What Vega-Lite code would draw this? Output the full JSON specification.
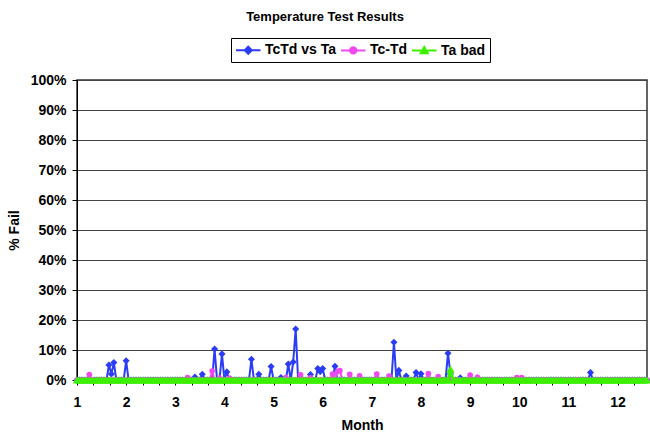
{
"$schema":"https://vega.github.io/schema/vega-lite/v6.json",
"width":570,"height":300,
"autosize":"none",
"padding":{"left":77,"top":80,"right":3,"bottom":54},
"background":"white",
"config":{"font":"Liberation Sans","view":{"stroke":"#333333","strokeWidth":1.5}},
"title":{"text":"Temperature Test Results","fontSize":13,"fontWeight":"bold","color":"black","anchor":"middle","dx":-37,"offset":4,"baseline":"alphabetic"},
"data":{"values":[
{"month":1,"tctd":0,"tc_td":0,"ta_bad":0},
{"month":1.05,"tctd":0,"tc_td":0,"ta_bad":0},
{"month":1.1,"tctd":0,"tc_td":0,"ta_bad":0},
{"month":1.15,"tctd":0,"tc_td":0,"ta_bad":0},
{"month":1.2,"tctd":0,"tc_td":0,"ta_bad":0},
{"month":1.25,"tctd":0,"tc_td":1.8,"ta_bad":0},
{"month":1.3,"tctd":0,"tc_td":0,"ta_bad":0},
{"month":1.35,"tctd":0,"tc_td":0,"ta_bad":0},
{"month":1.4,"tctd":0,"tc_td":0,"ta_bad":0},
{"month":1.45,"tctd":0,"tc_td":0,"ta_bad":0},
{"month":1.5,"tctd":0,"tc_td":0,"ta_bad":0},
{"month":1.55,"tctd":0,"tc_td":0,"ta_bad":0},
{"month":1.6,"tctd":0,"tc_td":0,"ta_bad":0},
{"month":1.65,"tctd":5.0,"tc_td":0,"ta_bad":0},
{"month":1.7,"tctd":2.0,"tc_td":0,"ta_bad":0},
{"month":1.75,"tctd":5.8,"tc_td":0,"ta_bad":0},
{"month":1.8,"tctd":0,"tc_td":0,"ta_bad":0},
{"month":1.85,"tctd":0,"tc_td":0,"ta_bad":0},
{"month":1.9,"tctd":0,"tc_td":0,"ta_bad":0},
{"month":1.95,"tctd":0,"tc_td":0,"ta_bad":0},
{"month":2,"tctd":6.4,"tc_td":0,"ta_bad":0},
{"month":2.05,"tctd":0,"tc_td":0,"ta_bad":0},
{"month":2.1,"tctd":0,"tc_td":0,"ta_bad":0},
{"month":2.15,"tctd":0,"tc_td":0,"ta_bad":0},
{"month":2.2,"tctd":0,"tc_td":0,"ta_bad":0},
{"month":2.25,"tctd":0,"tc_td":0,"ta_bad":0},
{"month":2.3,"tctd":0,"tc_td":0,"ta_bad":0},
{"month":2.35,"tctd":0,"tc_td":0,"ta_bad":0},
{"month":2.4,"tctd":0,"tc_td":0,"ta_bad":0},
{"month":2.45,"tctd":0,"tc_td":0,"ta_bad":0},
{"month":2.5,"tctd":0,"tc_td":0,"ta_bad":0},
{"month":2.55,"tctd":0,"tc_td":0,"ta_bad":0},
{"month":2.6,"tctd":0,"tc_td":0,"ta_bad":0},
{"month":2.65,"tctd":0,"tc_td":0,"ta_bad":0},
{"month":2.7,"tctd":0,"tc_td":0,"ta_bad":0},
{"month":2.75,"tctd":0,"tc_td":0,"ta_bad":0},
{"month":2.8,"tctd":0,"tc_td":0,"ta_bad":0},
{"month":2.85,"tctd":0,"tc_td":0,"ta_bad":0},
{"month":2.9,"tctd":0,"tc_td":0,"ta_bad":0},
{"month":2.95,"tctd":0,"tc_td":0,"ta_bad":0},
{"month":3,"tctd":0,"tc_td":0,"ta_bad":0},
{"month":3.05,"tctd":0,"tc_td":0,"ta_bad":0},
{"month":3.1,"tctd":0,"tc_td":0,"ta_bad":0},
{"month":3.15,"tctd":0,"tc_td":0,"ta_bad":0},
{"month":3.2,"tctd":0,"tc_td":0,"ta_bad":0},
{"month":3.25,"tctd":0,"tc_td":0.8,"ta_bad":0},
{"month":3.3,"tctd":0,"tc_td":0,"ta_bad":0},
{"month":3.35,"tctd":0,"tc_td":0,"ta_bad":0},
{"month":3.4,"tctd":1.0,"tc_td":0,"ta_bad":0},
{"month":3.45,"tctd":0,"tc_td":0,"ta_bad":0},
{"month":3.5,"tctd":0,"tc_td":0,"ta_bad":0},
{"month":3.55,"tctd":1.9,"tc_td":0,"ta_bad":0},
{"month":3.6,"tctd":0,"tc_td":0,"ta_bad":0},
{"month":3.65,"tctd":0,"tc_td":0,"ta_bad":0},
{"month":3.7,"tctd":0,"tc_td":0,"ta_bad":0},
{"month":3.75,"tctd":0,"tc_td":3.0,"ta_bad":0},
{"month":3.8,"tctd":10.3,"tc_td":0,"ta_bad":0},
{"month":3.85,"tctd":0,"tc_td":0,"ta_bad":0},
{"month":3.9,"tctd":0,"tc_td":0.6,"ta_bad":0},
{"month":3.95,"tctd":8.7,"tc_td":0,"ta_bad":0},
{"month":4,"tctd":0,"tc_td":0,"ta_bad":0},
{"month":4.05,"tctd":2.7,"tc_td":0,"ta_bad":0},
{"month":4.1,"tctd":0,"tc_td":0.6,"ta_bad":0},
{"month":4.15,"tctd":0,"tc_td":0,"ta_bad":0},
{"month":4.2,"tctd":0,"tc_td":0,"ta_bad":0},
{"month":4.25,"tctd":0,"tc_td":0,"ta_bad":0},
{"month":4.3,"tctd":0,"tc_td":0,"ta_bad":0},
{"month":4.35,"tctd":0,"tc_td":0,"ta_bad":0},
{"month":4.4,"tctd":0,"tc_td":0,"ta_bad":0},
{"month":4.45,"tctd":0,"tc_td":0,"ta_bad":0},
{"month":4.5,"tctd":0,"tc_td":0,"ta_bad":0},
{"month":4.55,"tctd":6.9,"tc_td":0,"ta_bad":0},
{"month":4.6,"tctd":0,"tc_td":0,"ta_bad":0},
{"month":4.65,"tctd":0,"tc_td":0,"ta_bad":0},
{"month":4.7,"tctd":1.9,"tc_td":0,"ta_bad":0},
{"month":4.75,"tctd":0,"tc_td":0,"ta_bad":0},
{"month":4.8,"tctd":0,"tc_td":0,"ta_bad":0},
{"month":4.85,"tctd":0,"tc_td":0,"ta_bad":0},
{"month":4.9,"tctd":0,"tc_td":0,"ta_bad":0},
{"month":4.95,"tctd":4.5,"tc_td":0,"ta_bad":0},
{"month":5,"tctd":0,"tc_td":0,"ta_bad":0},
{"month":5.05,"tctd":0,"tc_td":0,"ta_bad":0},
{"month":5.1,"tctd":0,"tc_td":0,"ta_bad":0},
{"month":5.15,"tctd":0.8,"tc_td":0,"ta_bad":0},
{"month":5.2,"tctd":0,"tc_td":0,"ta_bad":0},
{"month":5.25,"tctd":0,"tc_td":0.8,"ta_bad":0},
{"month":5.3,"tctd":5.3,"tc_td":0,"ta_bad":0},
{"month":5.35,"tctd":0,"tc_td":0,"ta_bad":0},
{"month":5.4,"tctd":6.0,"tc_td":0,"ta_bad":0},
{"month":5.45,"tctd":17.0,"tc_td":0,"ta_bad":0},
{"month":5.5,"tctd":0,"tc_td":0,"ta_bad":0},
{"month":5.55,"tctd":0,"tc_td":1.7,"ta_bad":0},
{"month":5.6,"tctd":0,"tc_td":0,"ta_bad":0},
{"month":5.65,"tctd":0,"tc_td":0,"ta_bad":0},
{"month":5.7,"tctd":0,"tc_td":0,"ta_bad":0},
{"month":5.75,"tctd":1.8,"tc_td":0.7,"ta_bad":0},
{"month":5.8,"tctd":0,"tc_td":0,"ta_bad":0},
{"month":5.85,"tctd":0,"tc_td":0,"ta_bad":0},
{"month":5.9,"tctd":3.8,"tc_td":0,"ta_bad":0},
{"month":5.95,"tctd":2.8,"tc_td":0,"ta_bad":0},
{"month":6,"tctd":3.8,"tc_td":0,"ta_bad":0},
{"month":6.05,"tctd":0,"tc_td":0,"ta_bad":0},
{"month":6.1,"tctd":0,"tc_td":0,"ta_bad":0},
{"month":6.15,"tctd":0,"tc_td":0,"ta_bad":0},
{"month":6.2,"tctd":0,"tc_td":2.0,"ta_bad":0},
{"month":6.25,"tctd":4.6,"tc_td":0,"ta_bad":0},
{"month":6.3,"tctd":0,"tc_td":2.8,"ta_bad":0},
{"month":6.35,"tctd":0,"tc_td":3.1,"ta_bad":0},
{"month":6.4,"tctd":0,"tc_td":0,"ta_bad":0},
{"month":6.45,"tctd":0,"tc_td":0,"ta_bad":0},
{"month":6.5,"tctd":0,"tc_td":0,"ta_bad":0},
{"month":6.55,"tctd":0,"tc_td":1.9,"ta_bad":0},
{"month":6.6,"tctd":0,"tc_td":0,"ta_bad":0},
{"month":6.65,"tctd":0,"tc_td":0,"ta_bad":0},
{"month":6.7,"tctd":0,"tc_td":0,"ta_bad":0},
{"month":6.75,"tctd":0,"tc_td":1.4,"ta_bad":0},
{"month":6.8,"tctd":0,"tc_td":0,"ta_bad":0},
{"month":6.85,"tctd":0,"tc_td":0,"ta_bad":0},
{"month":6.9,"tctd":0,"tc_td":0,"ta_bad":0},
{"month":6.95,"tctd":0,"tc_td":0,"ta_bad":0},
{"month":7,"tctd":0,"tc_td":0,"ta_bad":0},
{"month":7.05,"tctd":0,"tc_td":0,"ta_bad":0},
{"month":7.1,"tctd":0,"tc_td":2.0,"ta_bad":0},
{"month":7.15,"tctd":0,"tc_td":0,"ta_bad":0},
{"month":7.2,"tctd":0,"tc_td":0,"ta_bad":0},
{"month":7.25,"tctd":0,"tc_td":0,"ta_bad":0},
{"month":7.3,"tctd":0,"tc_td":0,"ta_bad":0},
{"month":7.35,"tctd":0,"tc_td":1.3,"ta_bad":0},
{"month":7.4,"tctd":0,"tc_td":0,"ta_bad":0},
{"month":7.45,"tctd":12.6,"tc_td":0,"ta_bad":0},
{"month":7.5,"tctd":0,"tc_td":0,"ta_bad":0},
{"month":7.55,"tctd":3.2,"tc_td":0,"ta_bad":0},
{"month":7.6,"tctd":0,"tc_td":0,"ta_bad":0},
{"month":7.65,"tctd":0,"tc_td":0,"ta_bad":0},
{"month":7.7,"tctd":1.3,"tc_td":0,"ta_bad":0},
{"month":7.75,"tctd":0,"tc_td":0,"ta_bad":0},
{"month":7.8,"tctd":0,"tc_td":0,"ta_bad":0},
{"month":7.85,"tctd":0,"tc_td":0,"ta_bad":0},
{"month":7.9,"tctd":2.5,"tc_td":0,"ta_bad":0},
{"month":7.95,"tctd":0,"tc_td":0,"ta_bad":0},
{"month":8,"tctd":2.1,"tc_td":0,"ta_bad":0},
{"month":8.05,"tctd":0,"tc_td":0,"ta_bad":0},
{"month":8.1,"tctd":0,"tc_td":0,"ta_bad":0},
{"month":8.15,"tctd":0,"tc_td":2.1,"ta_bad":0},
{"month":8.2,"tctd":0,"tc_td":0,"ta_bad":0},
{"month":8.25,"tctd":0,"tc_td":0,"ta_bad":0},
{"month":8.3,"tctd":0,"tc_td":0,"ta_bad":0},
{"month":8.35,"tctd":0,"tc_td":1.1,"ta_bad":0},
{"month":8.4,"tctd":0,"tc_td":0,"ta_bad":0},
{"month":8.45,"tctd":0,"tc_td":0,"ta_bad":0},
{"month":8.5,"tctd":0,"tc_td":0,"ta_bad":0},
{"month":8.55,"tctd":8.9,"tc_td":0,"ta_bad":0},
{"month":8.6,"tctd":2.0,"tc_td":0,"ta_bad":3.6},
{"month":8.65,"tctd":0,"tc_td":0,"ta_bad":0},
{"month":8.7,"tctd":0,"tc_td":0,"ta_bad":0},
{"month":8.75,"tctd":0,"tc_td":0,"ta_bad":0},
{"month":8.8,"tctd":0.7,"tc_td":0,"ta_bad":0},
{"month":8.85,"tctd":0,"tc_td":0,"ta_bad":0},
{"month":8.9,"tctd":0,"tc_td":0,"ta_bad":0},
{"month":8.95,"tctd":0,"tc_td":0,"ta_bad":0},
{"month":9,"tctd":0,"tc_td":1.6,"ta_bad":0},
{"month":9.05,"tctd":0,"tc_td":0,"ta_bad":0},
{"month":9.1,"tctd":0,"tc_td":0,"ta_bad":0},
{"month":9.15,"tctd":0.7,"tc_td":0.9,"ta_bad":0},
{"month":9.2,"tctd":0,"tc_td":0,"ta_bad":0},
{"month":9.25,"tctd":0,"tc_td":0,"ta_bad":0},
{"month":9.3,"tctd":0,"tc_td":0,"ta_bad":0},
{"month":9.35,"tctd":0,"tc_td":0,"ta_bad":0},
{"month":9.4,"tctd":0,"tc_td":0,"ta_bad":0},
{"month":9.45,"tctd":0,"tc_td":0,"ta_bad":0},
{"month":9.5,"tctd":0,"tc_td":0,"ta_bad":0},
{"month":9.55,"tctd":0,"tc_td":0,"ta_bad":0},
{"month":9.6,"tctd":0,"tc_td":0,"ta_bad":0},
{"month":9.65,"tctd":0,"tc_td":0,"ta_bad":0},
{"month":9.7,"tctd":0,"tc_td":0,"ta_bad":0},
{"month":9.75,"tctd":0,"tc_td":0,"ta_bad":0},
{"month":9.8,"tctd":0,"tc_td":0,"ta_bad":0},
{"month":9.85,"tctd":0,"tc_td":0,"ta_bad":0},
{"month":9.9,"tctd":0,"tc_td":0,"ta_bad":0},
{"month":9.95,"tctd":0,"tc_td":0.8,"ta_bad":0},
{"month":10,"tctd":0,"tc_td":0,"ta_bad":0},
{"month":10.05,"tctd":0,"tc_td":0.8,"ta_bad":0},
{"month":10.1,"tctd":0,"tc_td":0,"ta_bad":0},
{"month":10.15,"tctd":0,"tc_td":0,"ta_bad":0},
{"month":10.2,"tctd":0,"tc_td":0,"ta_bad":0},
{"month":10.25,"tctd":0,"tc_td":0,"ta_bad":0},
{"month":10.3,"tctd":0,"tc_td":0,"ta_bad":0},
{"month":10.35,"tctd":0,"tc_td":0,"ta_bad":0},
{"month":10.4,"tctd":0,"tc_td":0,"ta_bad":0},
{"month":10.45,"tctd":0,"tc_td":0,"ta_bad":0},
{"month":10.5,"tctd":0,"tc_td":0,"ta_bad":0},
{"month":10.55,"tctd":0,"tc_td":0,"ta_bad":0},
{"month":10.6,"tctd":0,"tc_td":0,"ta_bad":0},
{"month":10.65,"tctd":0,"tc_td":0,"ta_bad":0},
{"month":10.7,"tctd":0,"tc_td":0,"ta_bad":0},
{"month":10.75,"tctd":0,"tc_td":0,"ta_bad":0},
{"month":10.8,"tctd":0,"tc_td":0,"ta_bad":0},
{"month":10.85,"tctd":0,"tc_td":0,"ta_bad":0},
{"month":10.9,"tctd":0,"tc_td":0,"ta_bad":0},
{"month":10.95,"tctd":0,"tc_td":0,"ta_bad":0},
{"month":11,"tctd":0,"tc_td":0,"ta_bad":0},
{"month":11.05,"tctd":0,"tc_td":0,"ta_bad":0},
{"month":11.1,"tctd":0,"tc_td":0,"ta_bad":0},
{"month":11.15,"tctd":0,"tc_td":0,"ta_bad":0},
{"month":11.2,"tctd":0,"tc_td":0,"ta_bad":0},
{"month":11.25,"tctd":0,"tc_td":0,"ta_bad":0},
{"month":11.3,"tctd":0,"tc_td":0,"ta_bad":0},
{"month":11.35,"tctd":0,"tc_td":0,"ta_bad":0},
{"month":11.4,"tctd":0,"tc_td":0,"ta_bad":0},
{"month":11.45,"tctd":2.5,"tc_td":0,"ta_bad":0},
{"month":11.5,"tctd":0,"tc_td":0,"ta_bad":0},
{"month":11.55,"tctd":0,"tc_td":0,"ta_bad":0},
{"month":11.6,"tctd":0,"tc_td":0,"ta_bad":0},
{"month":11.65,"tctd":0,"tc_td":0,"ta_bad":0},
{"month":11.7,"tctd":0,"tc_td":0,"ta_bad":0},
{"month":11.75,"tctd":0,"tc_td":0,"ta_bad":0},
{"month":11.8,"tctd":0,"tc_td":0,"ta_bad":0},
{"month":11.85,"tctd":0,"tc_td":0,"ta_bad":0},
{"month":11.9,"tctd":0,"tc_td":0,"ta_bad":0},
{"month":11.95,"tctd":0,"tc_td":0,"ta_bad":0},
{"month":12,"tctd":0,"tc_td":0,"ta_bad":0},
{"month":12.05,"tctd":0,"tc_td":0,"ta_bad":0},
{"month":12.1,"tctd":0,"tc_td":0,"ta_bad":0},
{"month":12.15,"tctd":0,"tc_td":0,"ta_bad":0},
{"month":12.2,"tctd":0,"tc_td":0,"ta_bad":0},
{"month":12.25,"tctd":0,"tc_td":0,"ta_bad":0},
{"month":12.3,"tctd":0,"tc_td":0,"ta_bad":0},
{"month":12.35,"tctd":0,"tc_td":0,"ta_bad":0},
{"month":12.4,"tctd":0,"tc_td":0,"ta_bad":0},
{"month":12.45,"tctd":0,"tc_td":0,"ta_bad":0},
{"month":12.5,"tctd":0,"tc_td":0,"ta_bad":0},
{"month":12.55,"tctd":0,"tc_td":0,"ta_bad":0},
{"month":12.6,"tctd":0,"tc_td":0,"ta_bad":0}
]},
"transform":[{"fold":["tctd","tc_td","ta_bad"],"as":["series_key","pct"]}],
"encoding":{
"x":{"field":"month","type":"quantitative","scale":{"domain":[1,12.6],"nice":false,"zero":false},
"axis":{"title":"Month","grid":false,"values":[1,1.3333,1.6667,2,2.3333,2.6667,3,3.3333,3.6667,4,4.3333,4.6667,5,5.3333,5.6667,6,6.3333,6.6667,7,7.3333,7.6667,8,8.3333,8.6667,9,9.3333,9.6667,10,10.3333,10.6667,11,11.3333,11.6667,12,12.3333],
"labelExpr":"datum.value % 1 == 0 ? format(datum.value, 'd') : ''","tickSize":5,"tickColor":"#000000","domainColor":"#000000","labelFontSize":14,"labelFontWeight":"bold","labelColor":"#000000","labelPadding":10,"labelFlush":false,"labelOverlap":false,"titleFontSize":14,"titleFontWeight":"bold","titleColor":"#000000","titlePadding":9}},
"y":{"field":"pct","type":"quantitative","scale":{"domain":[0,100],"nice":false,"zero":true},
"axis":{"title":"% Fail","values":[0,10,20,30,40,50,60,70,80,90,100],"tickCount":11,"labelExpr":"datum.value + '%'","labelOverlap":false,"grid":true,"gridColor":"#444444","gridWidth":1,"tickSize":5,"tickColor":"#000000","domainColor":"#000000","labelFontSize":14,"labelFontWeight":"bold","labelColor":"#000000","labelPadding":6,"labelFlush":false,"titleFontSize":14,"titleFontWeight":"bold","titleColor":"#000000","titlePadding":9}}
},
"layer":[
{"transform":[{"filter":"datum.series_key == 'tctd'"}],
 "mark":{"type":"line","strokeWidth":2},
 "encoding":{
  "color":{"datum":"TcTd vs Ta","type":"nominal","scale":{"domain":["TcTd vs Ta","Tc-Td","Ta bad"],"range":["#2a3cf5","#f048f0","#3cf000"]},
   "legend":{"title":null,"orient":"none","legendX":154,"legendY":-42,"direction":"horizontal","strokeColor":"#000000","fillColor":"#ffffff","padding":4,"labelFontSize":14,"labelFontWeight":"bold","labelColor":"#000000","symbolSize":196,"symbolStrokeWidth":2,"columnPadding":0,"labelOffset":14,
    "encode":{"symbols":{"update":{
      "shape":{"signal":"datum.value === 'TcTd vs Ta' ? 'M-1,0L2.5,0M0.75,-0.5L1.25,0L0.75,0.5L0.25,0Z' : datum.value === 'Tc-Td' ? 'M-1,0L2.5,0M1.2,0A0.45,0.45,0,1,1,0.3,0A0.45,0.45,0,1,1,1.2,0Z' : 'M-1,0L2.5,0M0.75,-0.5L1.25,0.4L0.25,0.4Z'"},
      "fill":{"signal":"datum.value === 'TcTd vs Ta' ? '#2a3cf5' : datum.value === 'Tc-Td' ? '#f048f0' : '#3cf000'"},
      "stroke":{"signal":"datum.value === 'TcTd vs Ta' ? '#2a3cf5' : datum.value === 'Tc-Td' ? '#f048f0' : '#3cf000'"},
      "strokeWidth":{"value":2},"opacity":{"value":1},"fillOpacity":{"value":1},"size":{"value":196}}}}}}
 }},
{"transform":[{"filter":"datum.series_key == 'tctd'"}],
 "mark":{"type":"point","shape":"diamond","filled":true,"size":50,"opacity":1},
 "encoding":{"color":{"datum":"TcTd vs Ta","type":"nominal"}}},
{"transform":[{"filter":"datum.series_key == 'tc_td'"}],
 "mark":{"type":"line","strokeWidth":2},
 "encoding":{"color":{"datum":"Tc-Td","type":"nominal"}}},
{"transform":[{"filter":"datum.series_key == 'tc_td'"}],
 "mark":{"type":"point","shape":"circle","filled":true,"size":32,"opacity":1},
 "encoding":{"color":{"datum":"Tc-Td","type":"nominal"}}},
{"transform":[{"filter":"datum.series_key == 'ta_bad'"}],
 "mark":{"type":"line","strokeWidth":3},
 "encoding":{"color":{"datum":"Ta bad","type":"nominal"}}},
{"transform":[{"filter":"datum.series_key == 'ta_bad'"}],
 "mark":{"type":"point","shape":"triangle-up","filled":true,"size":70,"opacity":1},
 "encoding":{"color":{"datum":"Ta bad","type":"nominal"}}}
]
}
